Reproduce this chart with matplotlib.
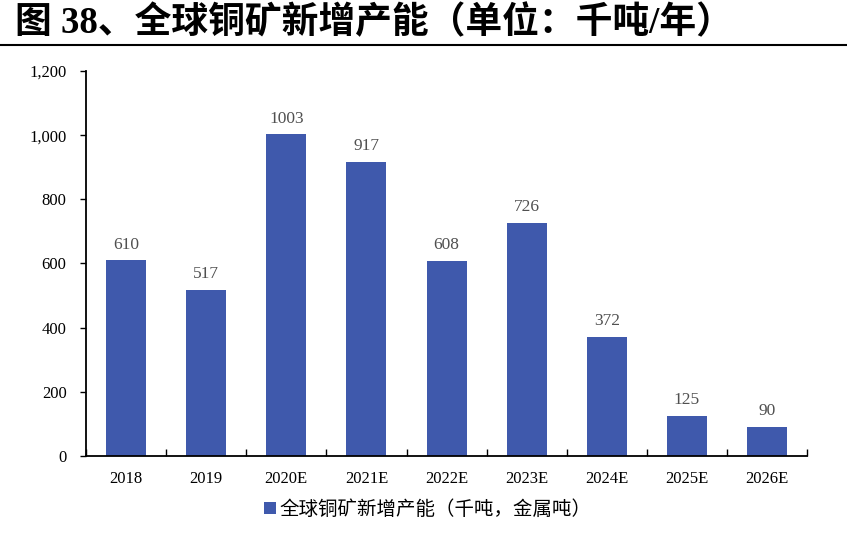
import numpy as np
import matplotlib.pyplot as plt
from matplotlib.ticker import FuncFormatter, FixedLocator

# 数据
years = ['2018', '2019', '2020E', '2021E', '2022E', '2023E', '2024E', '2025E', '2026E']
capacity = [610, 517, 1003, 917, 608, 726, 372, 125, 90]

bar_color = '#3F59AC'
serif = ['Liberation Serif', 'Noto Sans CJK SC']
cjk = ['Noto Sans CJK SC', 'DejaVu Sans']

fig = plt.figure(figsize=(8.47, 5.36), dpi=100)
ax = fig.add_axes([0.1015, 0.1493, 0.8515, 0.7182])

x = np.arange(len(years))
ax.bar(x, capacity, width=0.5, color=bar_color, label='全球铜矿新增产能（千吨，金属吨）')

for xi, v in zip(x, capacity):
    ax.text(xi, v + 24, str(v), ha='center', va='bottom', fontsize=12.5,
            family=serif, color='#505050')

ax.set_xlim(-0.5, len(years) - 0.5)
ax.set_ylim(0, 1200)
ax.set_yticks(range(0, 1201, 200))
ax.yaxis.set_major_formatter(FuncFormatter(lambda v, p: f'{int(v):,}'))
ax.set_xticks(x)
ax.set_xticklabels(years)
ax.xaxis.set_minor_locator(FixedLocator(np.arange(-0.5, len(years), 1.0)))
ax.tick_params(axis='x', which='major', length=0, pad=11)
ax.tick_params(axis='x', which='minor', length=5, direction='in', width=1)
ax.tick_params(axis='y', length=4, direction='out', width=1, pad=10)
for lbl in ax.get_xticklabels() + ax.get_yticklabels():
    lbl.set_family(serif)
    lbl.set_fontsize(12)

for s in ['top', 'right']:
    ax.spines[s].set_visible(False)
for s in ['left', 'bottom']:
    ax.spines[s].set_linewidth(1.3)

handles, labels = ax.get_legend_handles_labels()
fig.legend(handles, labels, loc='center', bbox_to_anchor=(0.505, 0.05), frameon=False,
           handlelength=0.6, handleheight=0.6, handletextpad=0.2,
           prop={'family': cjk, 'size': 14})

# 标题
fig.text(0.018, 0.957, '图 38、全球铜矿新增产能（单位：千吨/年）', ha='left', va='center',
         fontsize=26.5, fontweight='bold', family=serif)
fig.add_artist(plt.Line2D([0, 1], [0.916, 0.916], color='black', lw=1.5))

fig.savefig('out.png', dpi=100)
